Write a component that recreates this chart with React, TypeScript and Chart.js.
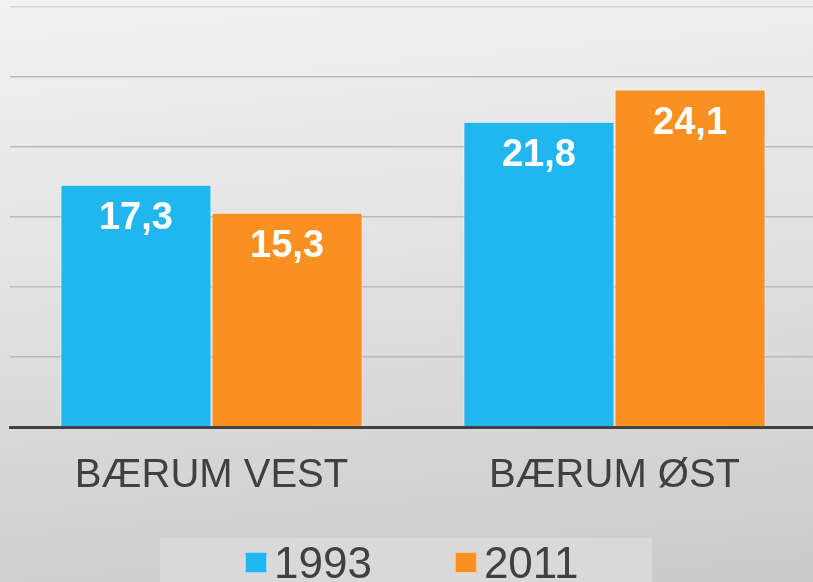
import React, { useEffect, useRef } from 'react';
import { Chart, registerables } from 'chart.js';

Chart.register(...registerables);

const categories = ['BÆRUM VEST', 'BÆRUM ØST'];
const seriesLabels = ['1993', '2011'];
const values1993 = [17.3, 21.8];
const values2011 = [15.3, 24.1];
const seriesColors = ['#21B6EE', '#F89122'];
const yMin = 0;
const yMax = 30;
const yStep = 5;

const FONT = '"Liberation Sans", Arial, Helvetica, sans-serif';
const TEXT_COLOR = '#404040';

export default function App() {
  const ref = useRef<HTMLCanvasElement | null>(null);

  useEffect(() => {
    const canvas = ref.current;
    if (!canvas) return;

    const dataLabels = {
      id: 'dataLabels',
      afterDatasetsDraw(chart: any) {
        const ctx = chart.ctx;
        ctx.save();
        ctx.fillStyle = '#ffffff';
        ctx.font = `bold 38px ${FONT}`;
        ctx.textAlign = 'center';
        ctx.textBaseline = 'middle';
        chart.data.datasets.forEach((ds: any, i: number) => {
          const meta = chart.getDatasetMeta(i);
          meta.data.forEach((bar: any, j: number) => {
            const v = ds.data[j] as number;
            ctx.fillText(v.toFixed(1).replace('.', ','), bar.x, bar.y + 34);
          });
        });
        ctx.restore();
      },
    };

    const customLegend = {
      id: 'customLegend',
      afterDraw(chart: any) {
        const ctx = chart.ctx;
        ctx.save();
        ctx.fillStyle = '#d9d9d9';
        ctx.fillRect(160, 538, 492, 60);
        ctx.font = `44px ${FONT}`;
        ctx.textBaseline = 'alphabetic';
        ctx.textAlign = 'left';
        let x = 245;
        chart.data.datasets.forEach((ds: any) => {
          ctx.fillStyle = ds.backgroundColor;
          ctx.fillRect(x, 552, 22, 21);
          ctx.strokeStyle = 'rgba(255,255,255,0.5)';
          ctx.lineWidth = 1;
          ctx.strokeRect(x + 0.5, 552.5, 21, 20);
          ctx.fillStyle = TEXT_COLOR;
          ctx.fillText(ds.label, x + 29, 578);
          const w = ctx.measureText(ds.label).width;
          x = x + 29 + w + 83;
        });
        ctx.restore();
      },
    };

    const chart = new Chart(canvas, {
      type: 'bar',
      data: {
        labels: categories,
        datasets: [
          {
            label: seriesLabels[0],
            data: values1993,
            backgroundColor: seriesColors[0],
            borderColor: 'rgba(255,255,255,0.55)',
            borderWidth: 1,
          },
          {
            label: seriesLabels[1],
            data: values2011,
            backgroundColor: seriesColors[1],
            borderColor: 'rgba(255,255,255,0.55)',
            borderWidth: 1,
          },
        ],
      },
      options: {
        responsive: false,
        animation: false,
        devicePixelRatio: 1,
        layout: { padding: { left: 10, right: 0, top: 7, bottom: 0 } },
        datasets: {
          bar: { categoryPercentage: 0.75, barPercentage: 1 },
        },
        plugins: {
          legend: { display: false },
          tooltip: { enabled: false },
          title: { display: false },
        },
        scales: {
          x: {
            grid: { display: false, drawTicks: false },
            border: { display: true, color: '#404040', width: 3 },
            ticks: {
              color: TEXT_COLOR,
              font: { family: FONT, size: 40 },
              padding: 25,
              maxRotation: 0,
              autoSkip: false,
            },
            afterFit: (scale: any) => {
              scale.height = 155;
            },
          },
          y: {
            min: yMin,
            max: yMax,
            ticks: { display: false, stepSize: yStep },
            grid: {
              drawTicks: false,
              lineWidth: 1.5,
              color: (c: any) =>
                c.tick && c.tick.value === yMax ? '#d6d6d6' : '#bababa',
            },
            border: { display: false },
          },
        },
      },
      plugins: [dataLabels, customLegend],
    });

    return () => chart.destroy();
  }, []);

  return (
    <div
      style={{
        position: 'fixed',
        left: 0,
        top: 0,
        width: 813,
        height: 582,
        overflow: 'hidden',
        background:
          'linear-gradient(175deg, #f2f2f2 0%, #e2e2e2 45%, #cacaca 100%)',
      }}
    >
      <canvas
        ref={ref}
        width={816}
        height={582}
        style={{ display: 'block', width: 816, height: 582 }}
      />
    </div>
  );
}
